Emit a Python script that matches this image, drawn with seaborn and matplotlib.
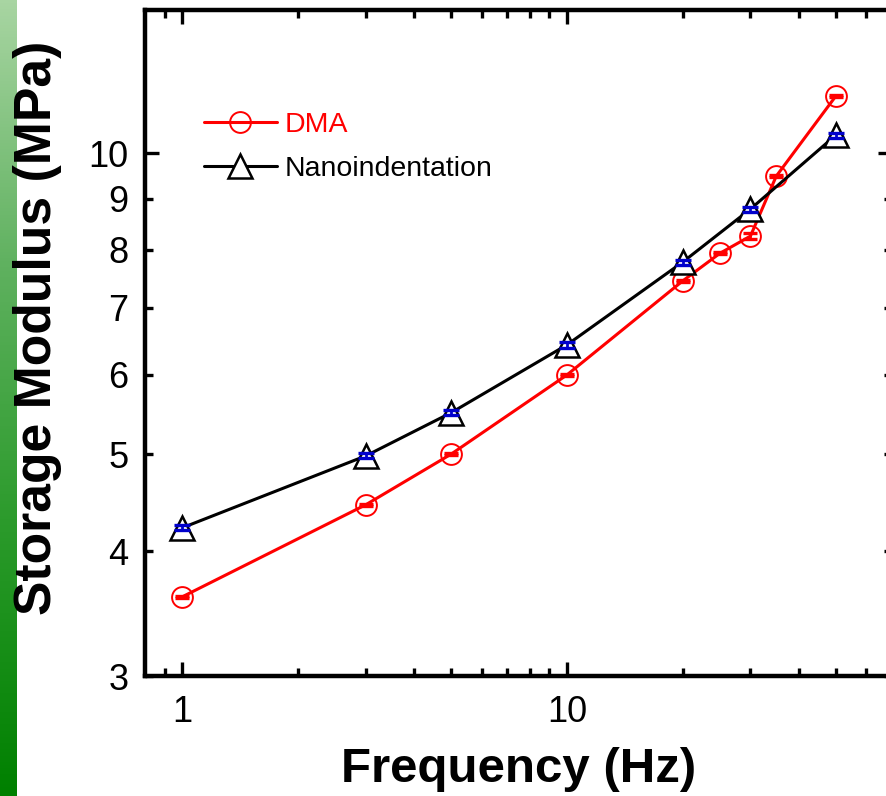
import numpy as np
import pandas as pd
import matplotlib
matplotlib.use("Agg")
import matplotlib.pyplot as plt
import seaborn as sns
from matplotlib.ticker import FixedLocator, NullFormatter, FixedFormatter
from matplotlib.colors import LinearSegmentedColormap

# ---- data ----
dma_freq = [1, 3, 5, 10, 20, 25, 30, 35, 50]
dma_mod = [3.60, 4.45, 5.00, 6.00, 7.45, 7.94, 8.26, 9.48, 11.4]
dma_err = [0.01, 0.01, 0.01, 0.01, 0.02, 0.02, 0.06, 0.02, 0.02]

nano_freq = [1, 3, 5, 10, 20, 30, 50]
nano_mod = [4.22, 4.98, 5.50, 6.43, 7.78, 8.79, 10.42]
nano_err = [0.025, 0.03, 0.035, 0.04, 0.045, 0.05, 0.06]

x_major = [1, 10]
x_minor = [0.9, 2, 3, 4, 5, 6, 7, 8, 9, 20, 30, 40, 50, 60]
y_major = [10]
y_minor = [3, 4, 5, 6, 7, 8, 9]

sns.set_theme(style="ticks")
plt.rcParams["font.family"] = ["Liberation Sans", "DejaVu Sans"]
plt.rcParams["text.color"] = "black"
plt.rcParams["axes.labelcolor"] = "black"
plt.rcParams["xtick.color"] = "black"
plt.rcParams["ytick.color"] = "black"

W, H = 887, 796
fig = plt.figure(figsize=(W / 100, H / 100), dpi=100)

# green gradient strip at left edge
gax = fig.add_axes([0, 0, 17 / W, 1])
grad = np.linspace(0, 1, 256).reshape(-1, 1)
cmap = LinearSegmentedColormap.from_list("g", ["#a8d5a2", "#5fb15f", "#2a9a2a", "#008000"])
gax.imshow(grad, aspect="auto", cmap=cmap, extent=[0, 1, 0, 1], origin="upper")
gax.set_axis_off()

left, right, top, bottom = 145, 892, 10, 676
ax = fig.add_axes([left / W, (H - bottom) / H, (right - left) / W, (bottom - top) / H])

df_dma = pd.DataFrame({"f": dma_freq, "E": dma_mod})
df_nano = pd.DataFrame({"f": nano_freq, "E": nano_mod})

sns.lineplot(data=df_dma, x="f", y="E", ax=ax, color="#ff0000", lw=2.2,
             marker="o", markersize=15, markerfacecolor="none",
             markeredgecolor="#ff0000", markeredgewidth=1.4, label="DMA", zorder=3)
sns.lineplot(data=df_nano, x="f", y="E", ax=ax, color="black", lw=2.2,
             marker="^", markersize=17, markerfacecolor="white",
             markeredgecolor="black", markeredgewidth=1.8, label="Nanoindentation", zorder=3)

ax.errorbar(dma_freq, dma_mod, yerr=dma_err, fmt="none", ecolor="#ff0000",
            elinewidth=2, capsize=5, capthick=2.4, zorder=4)
ax.errorbar(nano_freq, nano_mod, yerr=nano_err, fmt="none", ecolor="#0000cc",
            elinewidth=2, capsize=5.5, capthick=2.4, zorder=4)

ax.set_xscale("log")
ax.set_yscale("log")
ax.set_xlim(0.8, 70)
ax.set_ylim(3, 13.9)

ax.xaxis.set_major_locator(FixedLocator(x_major))
ax.xaxis.set_major_formatter(FixedFormatter([str(v) for v in x_major]))
ax.xaxis.set_minor_locator(FixedLocator(x_minor))
ax.xaxis.set_minor_formatter(NullFormatter())

ax.yaxis.set_major_locator(FixedLocator(y_major))
ax.yaxis.set_major_formatter(FixedFormatter([str(v) for v in y_major]))
ax.yaxis.set_minor_locator(FixedLocator(y_minor))
ax.yaxis.set_minor_formatter(FixedFormatter([str(v) for v in y_minor]))

for s in ax.spines.values():
    s.set_linewidth(3.2)
    s.set_color("black")

ax.tick_params(which="both", direction="in", top=True, right=True, colors="black",
               labelcolor="black", labelsize=26, pad=12)
ax.tick_params(axis="x", which="both", pad=14)
ax.tick_params(which="major", length=10, width=2.4)
ax.tick_params(which="minor", length=6, width=2.4)

ax.set_xlabel("Frequency (Hz)", fontsize=35.5, fontweight="bold", labelpad=12, color="black")
ax.set_ylabel("Storage Modulus (MPa)", fontsize=37.2, fontweight="bold", color="black")
ax.yaxis.set_label_coords(-0.111, 0.5225)

leg = ax.legend(loc="upper left", bbox_to_anchor=(0.079, 0.847), frameon=False,
                fontsize=20.5, handlelength=2.55, handletextpad=0.28,
                labelspacing=0.63, borderpad=0, borderaxespad=0,
                labelcolor="linecolor")

fig.savefig("out.png", dpi=100)
